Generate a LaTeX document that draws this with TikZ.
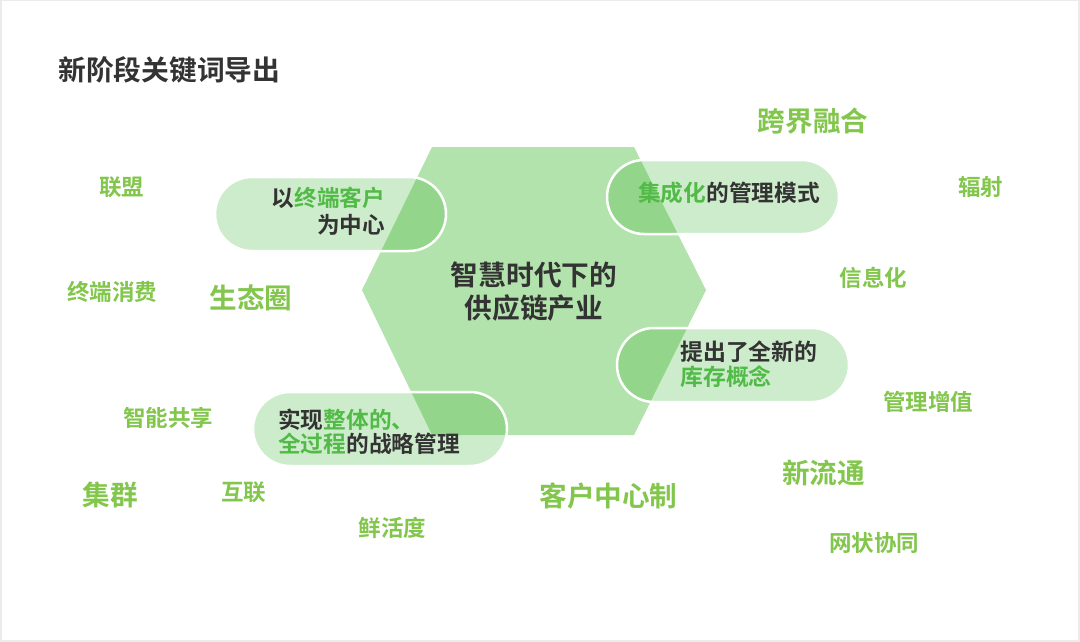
\documentclass[tikz,border=0pt]{standalone}
\usepackage{fontspec}
\newfontfamily\cjk{Noto Sans CJK SC}[BoldFont={Noto Sans CJK SC Bold}]
\definecolor{framec}{HTML}{EBEBEB}
\definecolor{hexc}{HTML}{B3E3AC}
\definecolor{pillc}{HTML}{2FB026}
\definecolor{dark}{HTML}{333333}
\definecolor{pg}{HTML}{52BA47}
\definecolor{kwg}{HTML}{82C64C}
\begin{document}
\begin{tikzpicture}[x=1pt,y=-1pt,
  kw/.style={text=kwg, font=\cjk\bfseries\fontsize{22.5}{26}\selectfont, inner sep=0pt},
  kwl/.style={text=kwg, font=\cjk\bfseries\fontsize{27.6}{30}\selectfont, inner sep=0pt},
  pill/.style={fill=pillc, fill opacity=0.24, draw=white, draw opacity=1, line width=2.5pt, rounded corners=37pt},
  pt/.style={text=dark, inner sep=0pt}]
% frame
\fill[framec] (0,0) rectangle (1080,642);
\fill[white] (2,1) rectangle (1078,640);
% hexagon
\fill[hexc] (432,147) -- (634,147) -- (706,290) -- (634,435) -- (432,435) -- (362,290) -- cycle;
% pills
\draw[pill] (215,177) rectangle (446,251);
\draw[pill] (607,160) rectangle (839,234);
\draw[pill] (617,328) rectangle (849,402);
\draw[pill] (253,392) rectangle (507,466);
% title
\node[anchor=west, text=dark, inner sep=0pt, font=\cjk\bfseries\fontsize{27.8}{30}\selectfont] (title) at (58,70) {新阶段关键词导出};
% center
\node[pt, align=center, font=\cjk\bfseries\fontsize{27.7}{33}\selectfont] (ctr) at (534,291.5) {智慧时代下的\\供应链产业};
% pill texts
\node[pt, anchor=east, align=right, font=\cjk\bfseries\fontsize{22.6}{27}\selectfont] (p1) at (385,211.5) {以\textcolor{pg}{终端客户}\\为中心};
\node[pt, anchor=west, font=\cjk\bfseries\fontsize{22.7}{25}\selectfont] (p2) at (638,193) {\textcolor{pg}{集成化}的管理模式};
\node[pt, anchor=west, align=left, font=\cjk\bfseries\fontsize{22.9}{25}\selectfont] (p3) at (680,364.5) {提出了全新的\\\textcolor{pg}{库存概念}};
\node[pt, anchor=west, align=left, font=\cjk\bfseries\fontsize{22.7}{23.5}\selectfont] (p4) at (278,431.5) {实现\textcolor{pg}{整体的、}\\\textcolor{pg}{全过程}的战略管理};
% keywords
\node[kwl] (k1) at (813,121) {跨界融合};
\node[kw] (k2) at (980.5,187) {辐射};
\node[kw] (k3) at (873.5,278) {信息化};
\node[kw] (k4) at (121.5,187) {联盟};
\node[kw] (k5) at (112,292) {终端消费};
\node[kwl] (k6) at (251,298) {生态圈};
\node[kw] (k7) at (168,418) {智能共享};
\node[kwl] (k8) at (110.5,495) {集群};
\node[kw] (k9) at (243.5,492) {互联};
\node[kw] (k10) at (392.5,528) {鲜活度};
\node[kwl] (k11) at (608.5,496) {客户中心制};
\node[kwl] (k12) at (823.5,473) {新流通};
\node[kw] (k13) at (928,402) {管理增值};
\node[kw] (k14) at (874,543) {网状协同};
\end{tikzpicture}
\end{document}
